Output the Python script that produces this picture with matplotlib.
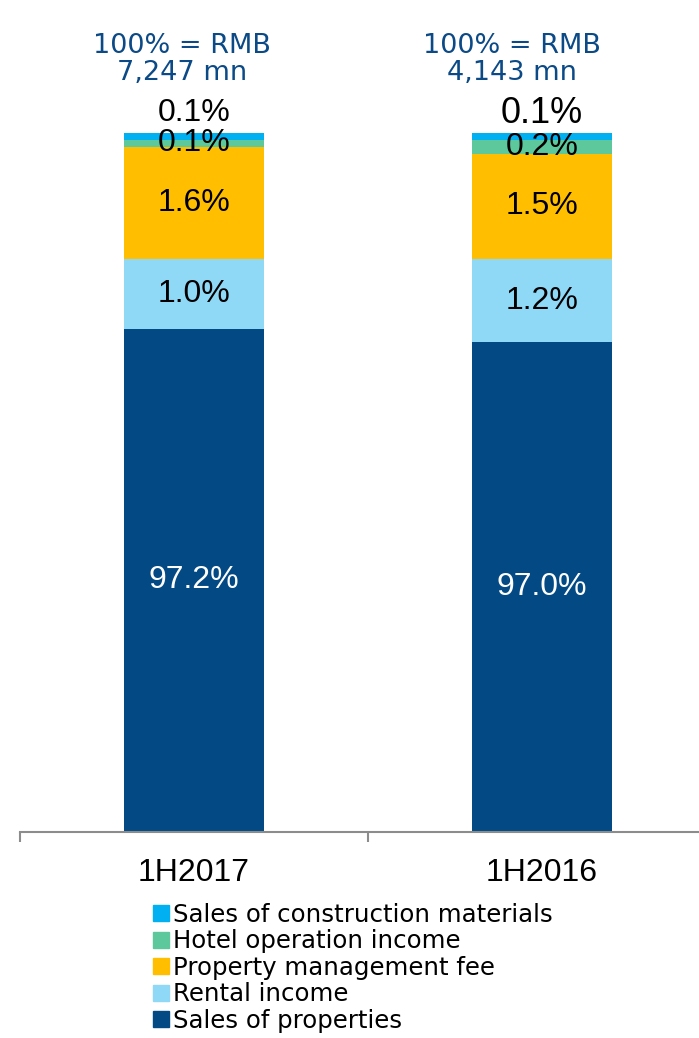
import numpy as np
import matplotlib
matplotlib.use('Agg')
import matplotlib.pyplot as plt
from matplotlib.patches import Patch

categories = ['1H2017', '1H2016']
totals = ['7,247', '4,143']

# segment heights as drawn (bottom to top)
sales = [72.0, 70.0]
rental = [10.0, 12.0]
mgmt_fee = [16.0, 15.0]
hotel = [1.0, 2.0]
construction = [1.0, 1.0]

# labels as printed on the chart
sales_lbl = ['97.2%', '97.0%']
rental_lbl = ['1.0%', '1.2%']
mgmt_lbl = ['1.6%', '1.5%']
hotel_lbl = ['0.1%', '0.2%']
constr_lbl = ['0.1%', '0.1%']

names = ['Sales of properties', 'Rental income', 'Property management fee',
         'Hotel operation income', 'Sales of construction materials']
colors = ['#034a85', '#8fd8f6', '#ffbf00', '#5dc89b', '#00b0f0']

series = [sales, rental, mgmt_fee, hotel, construction]
labels = [sales_lbl, rental_lbl, mgmt_lbl, hotel_lbl, constr_lbl]
txt_col = ['white', 'black', 'black', 'black', 'black']

fig = plt.figure(figsize=(6.99, 10.38), dpi=100)
ax = fig.add_axes([20/699, 206/1038, 696/699, 699.3/1038])

x = np.arange(len(categories))
bottom = np.zeros(len(categories))
for vals, col, lbl, tc in zip(series, colors, labels, txt_col):
    vals = np.array(vals)
    ax.bar(x, vals, 0.4, bottom=bottom, color=col, edgecolor='none')
    if lbl is not constr_lbl:
        for i in range(len(x)):
            ax.text(x[i], bottom[i] + vals[i]/2, lbl[i], ha='center', va='center',
                    color=tc, fontsize=23, family='Liberation Sans')
    bottom += vals

# top label sits above the bar
for i in range(len(x)):
    ax.annotate(constr_lbl[i], (x[i], bottom[i]), xytext=(0, 14), textcoords='offset points',
                ha='center', va='center', fontsize=[23, 26][i], family='Liberation Sans')

ax.set_xlim(-0.5, 1.5)
ax.set_ylim(0, 100)
for s in ['left', 'right', 'top']:
    ax.spines[s].set_visible(False)
ax.spines['bottom'].set_color('#8c8c8c')
ax.spines['bottom'].set_linewidth(1.5)
ax.set_yticks([])
ax.set_xticks(x)
ax.set_xticklabels(categories, fontsize=23, family='Liberation Sans')
ax.tick_params(axis='x', which='major', length=0, pad=18.5)
ax.set_xticks([-0.5, 0.5, 1.5], minor=True)
ax.tick_params(axis='x', which='minor', length=7.5, width=1.5, color='#8c8c8c', direction='out')

# headers
for i in range(len(x)):
    xp = [182, 512][i] / 699
    fig.text(xp, 1 - 80/1038, '100% = RMB\n' + totals[i] + ' mn', ha='center', va='baseline',
             color='#0b4a86', fontsize=19.5, linespacing=1.05, family='DejaVu Sans')

handles = [Patch(color=c) for c in colors][::-1]
fig.legend(handles, names[::-1], loc='upper left', bbox_to_anchor=(153/699, 1 - 903/1038),
           frameon=False, handlelength=0.64, handleheight=0.64,
           handletextpad=0.16, labelspacing=0.1, borderpad=0, borderaxespad=0,
           prop={'family': 'DejaVu Sans', 'size': 17.6})

fig.savefig('out.png', dpi=100)
